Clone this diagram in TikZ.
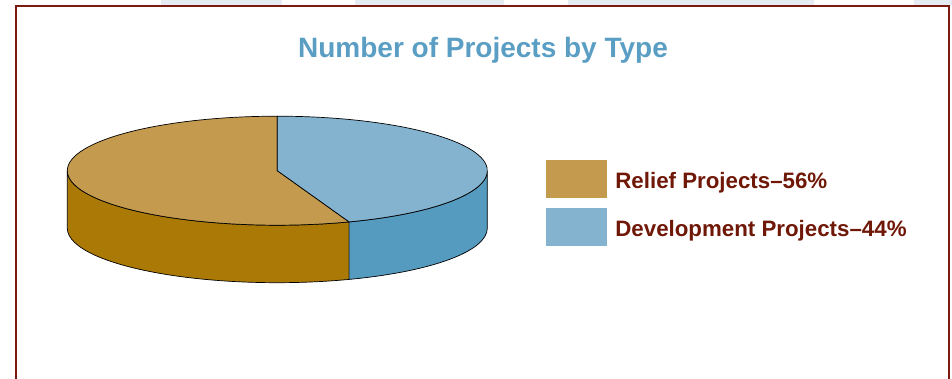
\documentclass[tikz,border=0pt]{standalone}
\usepackage{fontspec}
\setmainfont{Liberation Sans}
\usetikzlibrary{positioning}

\definecolor{relieftop}{HTML}{C49A4E}
\definecolor{reliefside}{HTML}{AB7905}
\definecolor{devtop}{HTML}{84B3D0}
\definecolor{devside}{HTML}{559ABF}
\definecolor{titleblue}{HTML}{5B9EC4}
\definecolor{darkred}{HTML}{701808}
\definecolor{framered}{HTML}{7B1B10}
\definecolor{stripgray}{HTML}{E6ECF4}

\begin{document}
\begin{tikzpicture}[x=1pt,y=1pt]
      \useasboundingbox (0,0) rectangle (952,379);
      \clip (0,0) rectangle (952,379);
      \tikzset{
      slice/.style = {draw=black, line width=0.7pt, line join=round},
      legendbox/.style = {minimum width=60.7pt, minimum height=37.7pt, inner sep=0pt},
      legendtext/.style = {text=darkred, inner sep=0pt, font=\bfseries\fontsize{22.3}{24}\selectfont} }

      \fill[stripgray] (161,373) rectangle (282,379);
      \fill[stripgray] (355,373) rectangle (504,379);
      \fill[stripgray] (568,373) rectangle (814,379);
      \fill[stripgray] (914,373) rectangle (952,379);
      \draw[framered,line width=2pt] (15.5,372.7) rectangle (949,-20);

      \node[text=titleblue, anchor=base, font=\bfseries\fontsize{28}{30}\selectfont] (title) at (483,321) {Number of Projects by Type};

      \coordinate (c) at (277.3,208.3);
      \draw[slice, fill=reliefside] (c) ++(180:210 and 54.5) -- ++(0,-57.5)
            arc[start angle=180, end angle=290, x radius=210, y radius=54.5] -- ++(0,57.5)
            arc[start angle=290, end angle=180, x radius=210, y radius=54.5] -- cycle;
      \draw[slice, fill=devside] (c) ++(290:210 and 54.5) -- ++(0,-57.5)
            arc[start angle=290, end angle=360, x radius=210, y radius=54.5] -- ++(0,57.5)
            arc[start angle=360, end angle=290, x radius=210, y radius=54.5] -- cycle;
      \draw[slice, fill=relieftop] (c) -- ++(90:210 and 54.5)
            arc[start angle=90, end angle=290, x radius=210, y radius=54.5] -- cycle;
      \draw[slice, fill=devtop] (c) -- ++(290:210 and 54.5)
            arc[start angle=290, end angle=450, x radius=210, y radius=54.5] -- cycle;

      \node[legendbox, fill=relieftop] (relief) at (576.3,200.2) {};
      \node[legendbox, fill=devtop, below=10pt of relief] (development) {};
      \node[legendtext, anchor=base west] (relieftxt) at ([xshift=8.3pt,yshift=-10.2pt]relief.east) {Relief Projects–56\%};
      \node[legendtext, anchor=base west] (devtxt) at ([xshift=8.3pt,yshift=-9.3pt]development.east) {Development Projects–44\%};
\end{tikzpicture}
\end{document}
